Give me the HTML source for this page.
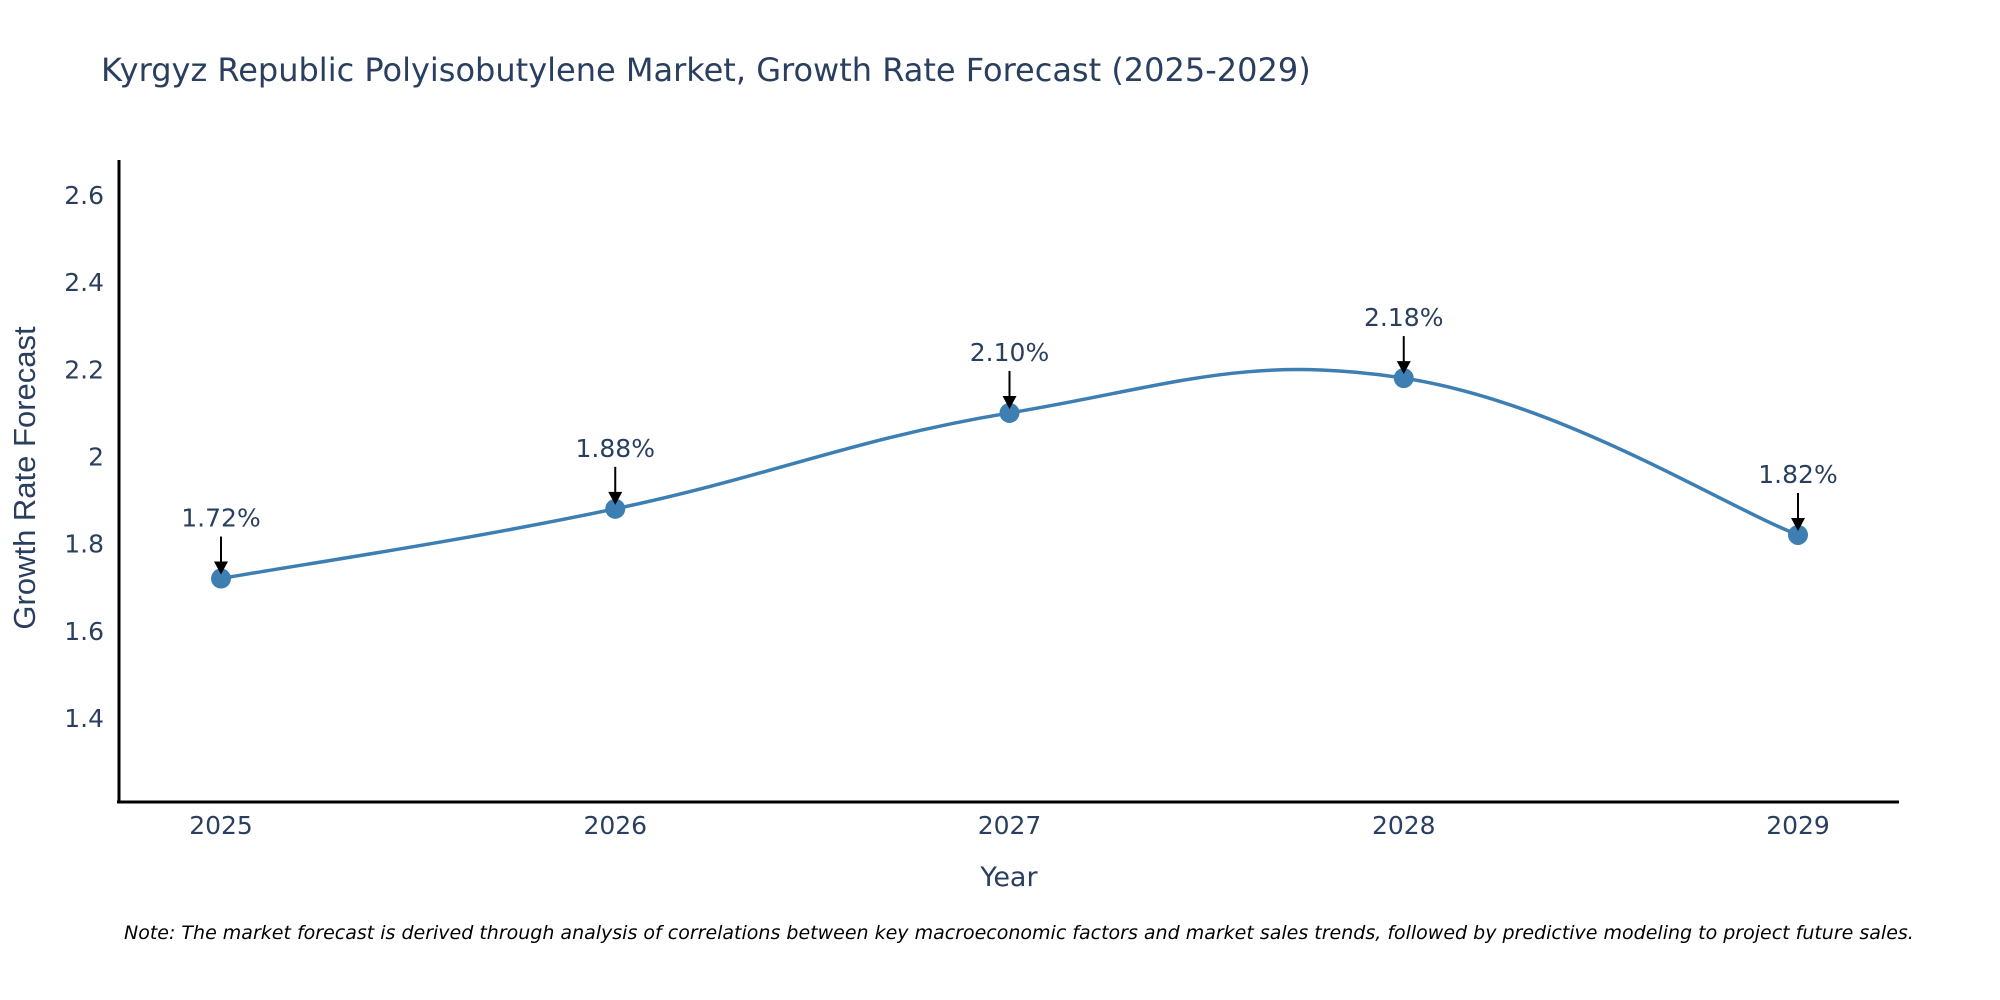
<!DOCTYPE html>
<html><head><meta charset="utf-8"><style>
body{margin:0;background:#fff;}
svg{display:block;font-family:"DejaVu Sans","Liberation Sans",sans-serif;}
</style></head><body>
<svg id="chart" width="2000" height="1000">
<text x="101" y="81" font-size="32" fill="#2a3f5f">Kyrgyz Republic Polyisobutylene Market, Growth Rate Forecast (2025-2029)</text>
<g id="yticks"></g>
<g id="xticks"></g>
<line x1="119" y1="160" x2="119" y2="803" stroke="#000" stroke-width="3"/>
<line x1="117" y1="802" x2="1899" y2="802" stroke="#000" stroke-width="3"/>
<text x="1009" y="886" font-size="27" fill="#2a3f5f" text-anchor="middle">Year</text>
<text x="0" y="0" font-size="31" fill="#2a3f5f" text-anchor="middle" font-family="Liberation Sans, sans-serif" transform="translate(35,478) rotate(-90)">Growth Rate Forecast</text>
<path id="line" fill="none" stroke="#3d7fb2" stroke-width="3.5"/>
<g id="marks"></g>
<text x="124" y="939" font-size="19" font-style="italic" fill="#000">Note: The market forecast is derived through analysis of correlations between key macroeconomic factors and market sales trends, followed by predictive modeling to project future sales.</text>
</svg>
<script>
const years = ["2025","2026","2027","2028","2029"];
const rates = [1.72, 1.88, 2.10, 2.18, 1.82];
const yTicks = [1.4, 1.6, 1.8, 2, 2.2, 2.4, 2.6];
const NS = "http://www.w3.org/2000/svg";
function xs(i){ return 221 + i * 394.25; }
function ys(v){ return 718 - (v - 1.4) * 435.8; }
const yt = document.getElementById('yticks');
yTicks.forEach(t => {
  const e = document.createElementNS(NS, 'text');
  
  
  e.setAttribute('x', 104); e.setAttribute('y', ys(t) + 9);
  e.setAttribute('text-anchor', 'end'); e.setAttribute('font-size', '25'); e.setAttribute('fill', '#2a3f5f');
  e.textContent = String(t);
  yt.appendChild(e);
});
const xt = document.getElementById('xticks');
years.forEach((y, i) => {
  const e = document.createElementNS(NS, 'text');
  
  
  e.setAttribute('x', xs(i)); e.setAttribute('y', 834);
  e.setAttribute('text-anchor', 'middle'); e.setAttribute('font-size', '25'); e.setAttribute('fill', '#2a3f5f');
  e.textContent = y;
  xt.appendChild(e);
});
const pts = rates.map((v, i) => [xs(i), ys(v)]);
let d = 'M' + pts[0][0] + ',' + pts[0][1];
const k = 0.2;
for (let i = 0; i < pts.length - 1; i++) {
  const p0 = pts[Math.max(0, i - 1)], p1 = pts[i], p2 = pts[i + 1], p3 = pts[Math.min(pts.length - 1, i + 2)];
  const c1 = [p1[0] + (p2[0] - p0[0]) * k, p1[1] + (p2[1] - p0[1]) * k];
  const c2 = [p2[0] - (p3[0] - p1[0]) * k, p2[1] - (p3[1] - p1[1]) * k];
  d += ' C' + c1[0] + ',' + c1[1] + ' ' + c2[0] + ',' + c2[1] + ' ' + p2[0] + ',' + p2[1];
}
document.getElementById('line').setAttribute('d', d);
const mk = document.getElementById('marks');
rates.forEach((v, i) => {
  const x = xs(i), y = ys(v);
  const c = document.createElementNS(NS, 'circle');
  
  
  c.setAttribute('cx', x); c.setAttribute('cy', y); c.setAttribute('r', 10); c.setAttribute('fill', '#3d7fb2');
  mk.appendChild(c);
  const l = document.createElementNS(NS, 'line');
  
  
  l.setAttribute('x1', x); l.setAttribute('y1', y - 42); l.setAttribute('x2', x); l.setAttribute('y2', y - 14);
  l.setAttribute('stroke', '#000'); l.setAttribute('stroke-width', '2');
  mk.appendChild(l);
  const h = document.createElementNS(NS, 'polygon');
  
  
  h.setAttribute('points', (x - 7) + ',' + (y - 17) + ' ' + (x + 7) + ',' + (y - 17) + ' ' + x + ',' + (y - 4));
  h.setAttribute('fill', '#000');
  mk.appendChild(h);
  const t = document.createElementNS(NS, 'text');
  
  
  t.setAttribute('x', x); t.setAttribute('y', y - 52);
  t.setAttribute('text-anchor', 'middle'); t.setAttribute('font-size', '25'); t.setAttribute('fill', '#2a3f5f');
  t.textContent = v.toFixed(2) + '%';
  mk.appendChild(t);
});
</script>
</body></html>
